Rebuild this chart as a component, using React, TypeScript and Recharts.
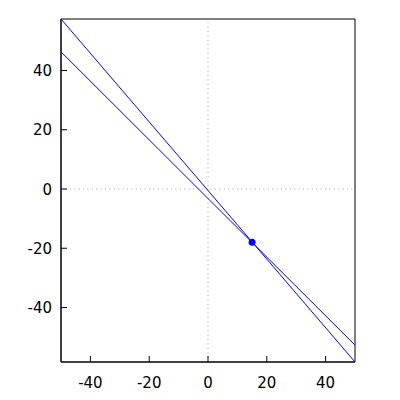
import {
  ComposedChart,
  Scatter,
  XAxis,
  YAxis,
  ReferenceLine,
  ReferenceArea,
} from "recharts";

const LINE_COLOR = "#0000ff";
const AXIS_COLOR = "#000000";
const ZERO_COLOR = "#a0a0a0";
const FONT = "'DejaVu Sans', sans-serif";

const X_DOMAIN = [-50, 50];
const Y_DOMAIN = [-58.4, 57.4];
const X_TICKS = [-40, -20, 0, 20, 40];
const Y_TICKS = [-40, -20, 0, 20, 40];

// two straight lines, drawn end to end across the x range
const steepLine = [
  { x: -50, y: 57.4 },
  { x: 50, y: -58.4 },
];
const flatLine = [
  { x: -50, y: 46.3 },
  { x: 50, y: -52.7 },
];
const crossing = [{ x: 15, y: -18 }];

const XTick = (props: any) => {
  const { x, y, payload } = props;
  return (
    <g>
      <line x1={x} y1={y} x2={x} y2={y - 6} stroke={AXIS_COLOR} />
      <text
        x={x}
        y={y + 26}
        textAnchor="middle"
        fontSize={15}
        fontFamily={FONT}
        fill="#000"
      >
        {payload.value}
      </text>
    </g>
  );
};

const YTick = (props: any) => {
  const { x, y, payload } = props;
  return (
    <g>
      <line x1={x} y1={y} x2={x + 6} y2={y} stroke={AXIS_COLOR} />
      <text
        x={x - 9}
        y={y + 5.5}
        textAnchor="end"
        fontSize={15}
        fontFamily={FONT}
        fill="#000"
      >
        {payload.value}
      </text>
    </g>
  );
};

const noShape = () => <g />;

export default function App() {
  return (
    <div style={{ position: "absolute", left: 0, top: 0 }}>
      <ComposedChart
        width={400}
        height={400}
        margin={{ top: 19, right: 45, bottom: 0, left: 0 }}
      >
        <XAxis
          dataKey="x"
          type="number"
          domain={X_DOMAIN}
          ticks={X_TICKS}
          allowDataOverflow
          height={38}
          tickSize={0}
          tickMargin={0}
          tick={<XTick />}
          axisLine={{ stroke: AXIS_COLOR }}
        />
        <YAxis
          dataKey="y"
          type="number"
          domain={Y_DOMAIN}
          ticks={Y_TICKS}
          allowDataOverflow
          width={61}
          tickSize={0}
          tickMargin={0}
          tick={<YTick />}
          axisLine={{ stroke: AXIS_COLOR }}
        />
        <ReferenceLine y={0} stroke={ZERO_COLOR} strokeDasharray="1 3.4" />
        <ReferenceLine x={0} stroke={ZERO_COLOR} strokeDasharray="1 3.4" />
        <ReferenceArea
          x1={X_DOMAIN[0]}
          x2={X_DOMAIN[1]}
          y1={Y_DOMAIN[0]}
          y2={Y_DOMAIN[1]}
          fill="none"
          stroke={AXIS_COLOR}
          strokeOpacity={1}
        />
        <Scatter
          data={steepLine}
          line={{ stroke: LINE_COLOR, strokeWidth: 1 }}
          shape={noShape}
          isAnimationActive={false}
        />
        <Scatter
          data={flatLine}
          line={{ stroke: LINE_COLOR, strokeWidth: 1 }}
          shape={noShape}
          isAnimationActive={false}
        />
        <Scatter
          data={crossing}
          fill={LINE_COLOR}
          shape={(p: any) => (
            <circle cx={p.cx} cy={p.cy} r={3.5} fill={LINE_COLOR} />
          )}
          isAnimationActive={false}
        />
      </ComposedChart>
    </div>
  );
}
